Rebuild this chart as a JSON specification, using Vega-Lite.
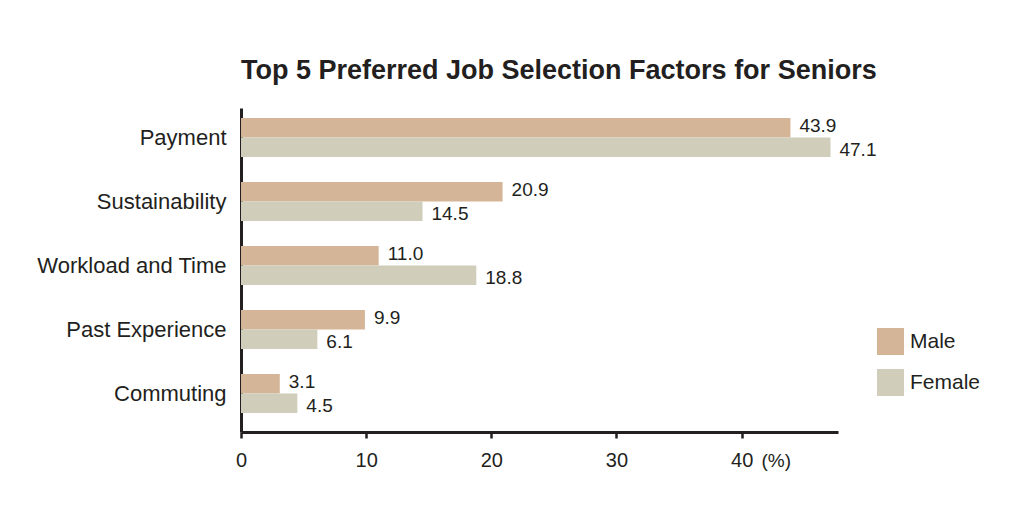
{
  "$schema": "https://vega.github.io/schema/vega-lite/v6.json",
  "width": 597,
  "height": 324,
  "autosize": {"type": "none"},
  "padding": {"left": 241, "top": 108, "right": 182, "bottom": 98},
  "background": "white",
  "config": {
    "font": "Liberation Sans",
    "view": {"stroke": null},
    "text": {"font": "Liberation Sans"}
  },
  "title": {
    "text": "Top 5 Preferred Job Selection Factors for Seniors",
    "anchor": "start",
    "frame": "group",
    "fontSize": 27,
    "fontWeight": "bold",
    "color": "#231f20",
    "offset": 23
  },
  "data": {
    "values": [
      {"factor": "Payment", "gender": "Male", "value": 43.9},
      {"factor": "Payment", "gender": "Female", "value": 47.1},
      {"factor": "Sustainability", "gender": "Male", "value": 20.9},
      {"factor": "Sustainability", "gender": "Female", "value": 14.5},
      {"factor": "Workload and Time", "gender": "Male", "value": 11.0},
      {"factor": "Workload and Time", "gender": "Female", "value": 18.8},
      {"factor": "Past Experience", "gender": "Male", "value": 9.9},
      {"factor": "Past Experience", "gender": "Female", "value": 6.1},
      {"factor": "Commuting", "gender": "Male", "value": 3.1},
      {"factor": "Commuting", "gender": "Female", "value": 4.5}
    ]
  },
  "encoding": {
    "y": {
      "field": "factor",
      "type": "nominal",
      "sort": ["Payment", "Sustainability", "Workload and Time", "Past Experience", "Commuting"],
      "scale": {"paddingInner": 0.39, "paddingOuter": 0.226, "align": 0.345},
      "axis": {
        "title": null,
        "domain": true,
        "domainColor": "#231f20",
        "domainWidth": 3,
        "ticks": false,
        "labelFontSize": 22,
        "labelColor": "#231f20",
        "labelPadding": 15,
        "labelLimit": 400,
        "labelFont": "Liberation Sans"
      }
    },
    "yOffset": {
      "field": "gender",
      "type": "nominal",
      "sort": ["Male", "Female"],
      "scale": {"paddingInner": 0, "paddingOuter": 0}
    },
    "x": {
      "field": "value",
      "type": "quantitative",
      "scale": {"domain": [0, 47.7], "nice": false, "zero": true},
      "axis": {
        "title": "(%)",
        "titleFontSize": 19,
        "titleFontWeight": "normal",
        "titleColor": "#231f20",
        "titleX": 520,
        "titleY": 28,
        "titleAlign": "left",
        "titleBaseline": "middle",
        "titleFont": "Liberation Sans",
        "values": [0, 10, 20, 30, 40],
        "grid": false,
        "domainColor": "#231f20",
        "domainWidth": 3,
        "tickColor": "#231f20",
        "tickWidth": 2.5,
        "tickSize": 6,
        "labelFontSize": 20,
        "labelColor": "#231f20",
        "labelPadding": 12,
        "labelFlush": false,
        "labelFont": "Liberation Sans"
      }
    }
  },
  "layer": [
    {
      "mark": {"type": "bar"},
      "encoding": {
        "color": {
          "field": "gender",
          "type": "nominal",
          "sort": ["Male", "Female"],
          "scale": {"domain": ["Male", "Female"], "range": ["#d5b597", "#d0cebb"]},
          "legend": {
            "title": null,
            "orient": "none",
            "legendX": 636,
            "legendY": 220,
            "padding": 0,
            "symbolType": "square",
            "symbolSize": 729,
            "symbolStrokeWidth": 0,
            "symbolOpacity": 1,
            "labelFontSize": 21,
            "labelColor": "#231f20",
            "labelOffset": 6,
            "labelFont": "Liberation Sans",
            "rowPadding": 14
          }
        }
      }
    },
    {
      "transform": [{"filter": "datum.gender == 'Male'"}],
      "mark": {"type": "text", "align": "left", "baseline": "middle", "dx": 9, "dy": -2, "fontSize": 19, "color": "#231f20"},
      "encoding": {"text": {"field": "value", "type": "quantitative", "format": ".1f"}}
    },
    {
      "transform": [{"filter": "datum.gender == 'Female'"}],
      "mark": {"type": "text", "align": "left", "baseline": "middle", "dx": 9, "dy": 3, "fontSize": 19, "color": "#231f20"},
      "encoding": {"text": {"field": "value", "type": "quantitative", "format": ".1f"}}
    }
  ]
}
